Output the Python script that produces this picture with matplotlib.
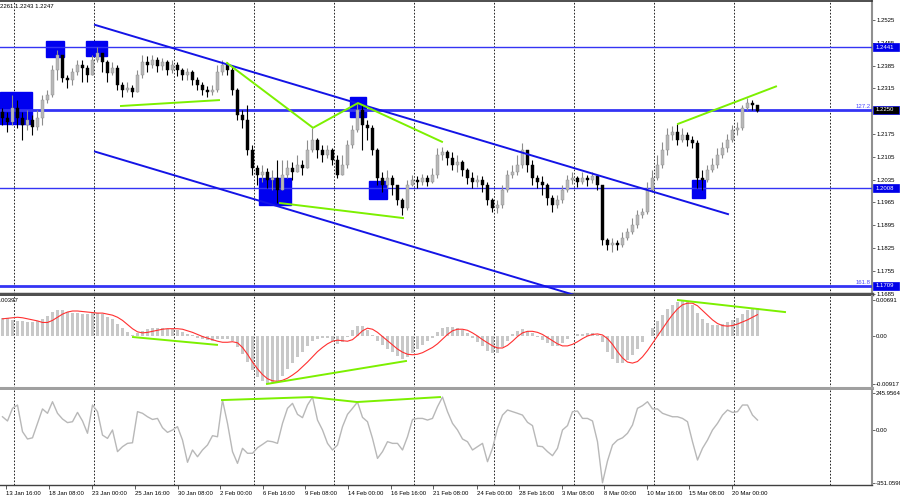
import matplotlib
matplotlib.use('Agg')
import matplotlib.pyplot as plt
import matplotlib.transforms as mtransforms
from matplotlib.patches import Rectangle
import numpy as np

plt.rcParams['font.family'] = ['Liberation Sans', 'DejaVu Sans']

# H4 candles (bar index 0..151)
first_open = 1.2243
closes = [1.2224, 1.2212, 1.2255, 1.2224, 1.2203, 1.2218, 1.2197, 1.2224, 1.2279, 1.2295,
          1.2372, 1.2418, 1.2347, 1.2341, 1.2365, 1.2387, 1.2378, 1.2356, 1.2402, 1.2424,
          1.2396, 1.2362, 1.2378, 1.2325, 1.2310, 1.2316, 1.2304, 1.2356, 1.2396, 1.2387,
          1.2402, 1.2384, 1.2396, 1.2372, 1.2387, 1.2372, 1.2356, 1.2365, 1.2341, 1.2325,
          1.2310, 1.2304, 1.2310, 1.2365, 1.2387, 1.2372, 1.2310, 1.2233, 1.2218, 1.2126,
          1.2071, 1.2049, 1.2058, 1.2034, 1.2040, 1.2003, 1.2049, 1.2071, 1.2058, 1.2080,
          1.2071, 1.2126, 1.2157, 1.2126, 1.2111, 1.2126, 1.2096, 1.2049, 1.2080, 1.2142,
          1.2187, 1.2249, 1.2203, 1.2194, 1.2126, 1.2040, 1.2019, 1.2040, 1.2019, 1.1973,
          1.1948, 1.2019, 1.2034, 1.2028, 1.2040, 1.2028, 1.2049, 1.2111, 1.2120, 1.2102,
          1.2080, 1.2089, 1.2065, 1.2040, 1.2028, 1.2034, 1.2019, 1.1973, 1.1948, 1.1957,
          1.2003, 1.2049, 1.2058, 1.2080, 1.2126, 1.2080, 1.2040, 1.2028, 1.2019, 1.1979,
          1.1957, 1.1973, 1.2003, 1.2034, 1.2040, 1.2028, 1.2040, 1.2034, 1.2046, 1.2019,
          1.1850, 1.1834, 1.1840, 1.1834, 1.1856, 1.1874, 1.1896, 1.1926, 1.1936, 1.2003,
          1.2040, 1.2080, 1.2126, 1.2172, 1.2181, 1.2157, 1.2172, 1.2157, 1.2148, 1.2040,
          1.2034, 1.2065, 1.2080, 1.2111, 1.2132, 1.2157, 1.2187, 1.2194, 1.2255, 1.2270,
          1.2264, 1.2247]
highs = [1.2255, 1.2243, 1.2295, 1.2279, 1.2243, 1.2249, 1.2233, 1.2249, 1.2295, 1.2310,
         1.2387, 1.2433, 1.2408, 1.2356, 1.2378, 1.2402, 1.2402, 1.2387, 1.2418, 1.2442,
         1.2418, 1.2402, 1.2396, 1.2387, 1.2335, 1.2335, 1.2325, 1.2372, 1.2418, 1.2415,
         1.2418, 1.2411, 1.2408, 1.2402, 1.2402, 1.2396, 1.2378, 1.2378, 1.2372, 1.2350,
         1.2335, 1.2322, 1.2325, 1.2387, 1.2402, 1.2396, 1.2387, 1.2316, 1.2249, 1.2264,
         1.2142, 1.2080, 1.2080, 1.2071, 1.2065, 1.2096, 1.2096, 1.2096, 1.2089, 1.2111,
         1.2096, 1.2157, 1.2194, 1.2163, 1.2142, 1.2142, 1.2132, 1.2111, 1.2111, 1.2157,
         1.2203, 1.2273, 1.2264, 1.2218, 1.2203, 1.2132, 1.2058, 1.2065, 1.2049, 1.2019,
         1.1979, 1.2034, 1.2049, 1.2046, 1.2052, 1.2049, 1.2071, 1.2132, 1.2135, 1.2126,
         1.2120, 1.2111, 1.2096, 1.2071, 1.2058, 1.2049, 1.2046, 1.2028, 1.1979, 1.1973,
         1.2019, 1.2065, 1.2080, 1.2111, 1.2148, 1.2120, 1.2096, 1.2049, 1.2046, 1.2025,
         1.1988, 1.1988, 1.2019, 1.2049, 1.2058, 1.2046, 1.2058, 1.2049, 1.2058, 1.2049,
         1.2019, 1.1856, 1.1856, 1.1850, 1.1874, 1.1886, 1.1917, 1.1942, 1.1948, 1.2028,
         1.2065, 1.2111, 1.2151, 1.2194, 1.2200, 1.2206, 1.2194, 1.2181, 1.2169, 1.2157,
         1.2065, 1.2080, 1.2102, 1.2132, 1.2151, 1.2175, 1.2203, 1.2212, 1.2264, 1.2286,
         1.2279, 1.2261]
lows = [1.2203, 1.2181, 1.2203, 1.2194, 1.2157, 1.2187, 1.2172, 1.2187, 1.2203, 1.2270,
        1.2289, 1.2341, 1.2335, 1.2316, 1.2325, 1.2356, 1.2335, 1.2335, 1.2356, 1.2396,
        1.2365, 1.2335, 1.2356, 1.2310, 1.2289, 1.2304, 1.2289, 1.2304, 1.2347, 1.2365,
        1.2378, 1.2365, 1.2372, 1.2356, 1.2362, 1.2353, 1.2341, 1.2341, 1.2325, 1.2310,
        1.2295, 1.2289, 1.2295, 1.2304, 1.2356, 1.2356, 1.2295, 1.2218, 1.2194, 1.2111,
        1.2049, 1.2019, 1.2028, 1.2009, 1.2003, 1.1963, 1.2009, 1.2040, 1.2034, 1.2058,
        1.2049, 1.2071, 1.2120, 1.2102, 1.2089, 1.2102, 1.2080, 1.2040, 1.2058, 1.2071,
        1.2132, 1.2181, 1.2126, 1.2157, 1.2111, 1.2019, 1.1997, 1.2009, 1.1988, 1.1957,
        1.1926, 1.1942, 1.2016, 1.2009, 1.2019, 1.2016, 1.2025, 1.2040, 1.2096, 1.2080,
        1.2065, 1.2058, 1.2046, 1.2022, 1.2009, 1.2013, 1.1997, 1.1957, 1.1936, 1.1933,
        1.1948, 1.1997, 1.2040, 1.2049, 1.2071, 1.2058, 1.2019, 1.2009, 1.1988, 1.1957,
        1.1936, 1.1948, 1.1963, 1.1997, 1.2022, 1.2013, 1.2022, 1.2016, 1.2025, 1.2003,
        1.1834, 1.1819, 1.1813, 1.1819, 1.1828, 1.1850, 1.1868, 1.1886, 1.1917, 1.1930,
        1.1997, 1.2034, 1.2071, 1.2111, 1.2157, 1.2142, 1.2151, 1.2138, 1.2132, 1.2009,
        1.2003, 1.2028, 1.2058, 1.2071, 1.2102, 1.2120, 1.2151, 1.2172, 1.2187, 1.2249,
        1.2249, 1.2243]

macd_hist = [0.0035, 0.0034, 0.0031, 0.0029, 0.0028, 0.0027, 0.0027, 0.0029, 0.0032, 0.0038,
             0.0046, 0.0050, 0.0050, 0.0047, 0.0045, 0.0044, 0.0043, 0.0042, 0.0044, 0.0045,
             0.0042, 0.0037, 0.0032, 0.0024, 0.0015, 0.0007, 0.0002, 0.0005, 0.0010, 0.0013,
             0.0015, 0.0016, 0.0015, 0.0014, 0.0013, 0.0011, 0.0007, 0.0003, 0.0001, -0.0003,
             -0.0006, -0.0008, -0.0009, -0.0006, -0.0005, -0.0006, -0.0010, -0.0022, -0.0035, -0.0050,
             -0.0066, -0.0078, -0.0086, -0.0092, -0.0090, -0.0086, -0.0076, -0.0064, -0.0052, -0.0040,
             -0.0030, -0.0020, -0.0010, -0.0005, -0.0003, -0.0004, -0.0010, -0.0015, -0.0012, -0.0002,
             0.0012, 0.0020, 0.0019, 0.0012, 0.0002, -0.0010, -0.0018, -0.0024, -0.0030, -0.0038,
             -0.0045, -0.0040, -0.0032, -0.0025, -0.0017, -0.0010, -0.0003, 0.0008, 0.0015, 0.0017,
             0.0017, 0.0016, 0.0012, 0.0005, -0.0004, -0.0012, -0.0020, -0.0028, -0.0033, -0.0032,
             -0.0022, -0.0010, 0.0003, 0.0010, 0.0013, 0.0010, 0.0005, -0.0002, -0.0008, -0.0014,
             -0.0020, -0.0020, -0.0014, -0.0006, 0.0000, 0.0003, 0.0004, 0.0005, 0.0005, 0.0002,
             -0.0012, -0.0030, -0.0045, -0.0052, -0.0052, -0.0046, -0.0036, -0.0024, -0.0012, 0.0000,
             0.0015, 0.0028, 0.0040, 0.0052, 0.0060, 0.0065, 0.0069, 0.0066, 0.0060, 0.0045,
             0.0032, 0.0025, 0.0022, 0.0022, 0.0024, 0.0027, 0.0031, 0.0035, 0.0042, 0.0049,
             0.0053, 0.0054]
macd_signal = [0.0033, 0.0034, 0.0035, 0.0036, 0.0035, 0.0033, 0.0031, 0.0029, 0.0026, 0.0026,
               0.0030, 0.0036, 0.0042, 0.0046, 0.0048, 0.0048, 0.0047, 0.0046, 0.0045, 0.0044,
               0.0044, 0.0042, 0.0040, 0.0036, 0.0030, 0.0022, 0.0014, 0.0008, 0.0006, 0.0007,
               0.0009, 0.0011, 0.0013, 0.0014, 0.0014, 0.0014, 0.0013, 0.0010, 0.0007, 0.0003,
               -0.0001, -0.0004, -0.0007, -0.0010, -0.0012, -0.0012, -0.0011, -0.0013, -0.0022, -0.0035,
               -0.0050, -0.0063, -0.0074, -0.0082, -0.0086, -0.0087, -0.0085, -0.0081, -0.0075, -0.0068,
               -0.0059, -0.0050, -0.0040, -0.0030, -0.0022, -0.0015, -0.0010, -0.0008, -0.0009, -0.0010,
               -0.0007, 0.0001, 0.0010, 0.0015, 0.0013, 0.0007, -0.0001, -0.0009, -0.0017, -0.0025,
               -0.0031, -0.0035, -0.0036, -0.0035, -0.0032, -0.0027, -0.0022, -0.0015, -0.0006, 0.0003,
               0.0010, 0.0013, 0.0013, 0.0011, 0.0006, 0.0000, -0.0007, -0.0013, -0.0019, -0.0023,
               -0.0023, -0.0018, -0.0010, -0.0001, 0.0006, 0.0009, 0.0009, 0.0007, 0.0003, -0.0003,
               -0.0009, -0.0015, -0.0019, -0.0019, -0.0016, -0.0011, -0.0005, 0.0000, 0.0003, 0.0004,
               0.0002, -0.0005, -0.0016, -0.0030, -0.0042, -0.0050, -0.0052, -0.0049, -0.0040, -0.0028,
               -0.0014, 0.0000, 0.0014, 0.0028, 0.0041, 0.0052, 0.0060, 0.0063, 0.0063, 0.0058,
               0.0049, 0.0040, 0.0031, 0.0024, 0.0020, 0.0019, 0.0020, 0.0023, 0.0027, 0.0031,
               0.0036, 0.0041]
cci = [88, 60, 144, 166, -11, -60, -52, 44, 140, 111,
       188, 111, 73, 49, 55, 117, 60, -22, 166, 122,
       -34, -56, 0, -144, -111, -89, -85, 122, 111, 88,
       70, 77, 15, -16, 0, 22, -67, -215, -133, -178,
       -133, -100, -38, -45, 199, 44, -144, -222, -122, -155,
       -155, -118, -96, -73, -78, -89, 44, 144, 177, 104,
       82, 166, 219, 66, 0, -89, -133, -100, 22, 104,
       144, 186, 84, 55, -56, -189, -144, -78, -89, -89,
       -133, -45, 70, 77, 77, 66, 77, 155, 219, 122,
       44, 0, -60, -78, -133, -111, -89, -211, -122, 11,
       99, 133, 122, 111, 99, 51, 29, -107, -111, -144,
       -171, -122, 0, 29, 122, 126, 77, 77, 60, -78,
       -351, -206, -100, -67, -52, -22, 33, 144, 162, 188,
       140, 140, 111, 99, 88, 88, 77, 55, -78, -200,
       -122, -67, 0, 44, 99, 133, 117, 122, 166, 166,
       99, 66]

# horizontal levels and annotations (bar index, price)
levels = [1.2441, 1.2250, 1.2008, 1.1709]
level_widths = [1.0, 2.0, 1.0, 2.0]
level_boxes = ['#0000e8', '#000000', '#0000e8', '#0000e8']
fib_text = {1.2250: '127.2', 1.1709: '161.8'}
channel_upper = [(18.5, 1.2510), (145.1, 1.1929)]
channel_lower = [(18.5, 1.2121), (120.0, 1.1655)]
green_price = [[(23.7, 1.2261), (43.3, 1.2279)],
               [(44.9, 1.2393), (62.1, 1.2194), (71.1, 1.2270), (87.9, 1.2151)],
               [(55.5, 1.1963), (80.1, 1.1917)],
               [(135.1, 1.2206), (154.7, 1.2321)]]
green_macd = [[(26.1, -0.0002), (42.9, -0.0017)],
              [(52.9, -0.0092), (80.7, -0.0048)],
              [(135.1, 0.0069), (156.5, 0.0046)]]
green_cci = [[(43.9, 199), (61.7, 219), (70.9, 186), (87.5, 219)]]
# (bar start, bar end, price low, price high)
squares = [(-0.5, 5.9, 1.2206, 1.2304), (8.7, 12.3, 1.2411, 1.2461),
           (16.7, 20.9, 1.2415, 1.2461), (51.3, 57.7, 1.1957, 1.2040),
           (69.5, 72.7, 1.2227, 1.2289), (73.3, 76.9, 1.1976, 1.2031),
           (137.9, 140.5, 1.1979, 1.2034)]

price_ticks = [1.2525, 1.2455, 1.2385, 1.2315, 1.2175, 1.2105, 1.2035,
               1.1965, 1.1895, 1.1825, 1.1755, 1.1685]
macd_ticks = [0.00691, 0.0, -0.00917]
macd_tick_labels = ['0.00691', '0.00', '-0.00917']
cci_ticks = [245.9564, 0.0, -351.0598]
cci_tick_labels = ['245.9564', '0.00', '-351.0598']
grid_pos = [2.4, 18.4, 34.4, 50.4, 66.4, 82.4, 98.4, 114.4, 130.4, 146.4, 165.5]
time_pos = [0.8, 9.3, 18.0, 26.5, 35.1, 43.6, 52.1, 60.5, 69.1, 77.7, 86.2, 94.9,
            103.3, 111.9, 120.4, 128.9, 137.4, 146.0]
time_labels = ['13 Jan 16:00', '18 Jan 08:00', '23 Jan 00:00', '25 Jan 16:00',
               '30 Jan 08:00', '2 Feb 00:00', '6 Feb 16:00', '9 Feb 08:00',
               '14 Feb 00:00', '16 Feb 16:00', '21 Feb 08:00', '24 Feb 00:00',
               '28 Feb 16:00', '3 Mar 08:00', '8 Mar 00:00', '10 Mar 16:00',
               '15 Mar 08:00', '20 Mar 00:00']

FS = 4.3
W, H = 900, 500
fig = plt.figure(figsize=(9, 5), dpi=100)
fig.patch.set_facecolor('white')
aw = 872 / W
ax1 = fig.add_axes([0, 1 - 294 / H, aw, 293 / H])
ax2 = fig.add_axes([0, 1 - 388 / H, aw, 92 / H])
ax3 = fig.add_axes([0, 1 - 485 / H, aw, 95 / H])

x = np.arange(len(closes))
c = np.array(closes)
o = np.array([first_open] + closes[:-1])
hi = np.maximum(np.array(highs), np.maximum(o, c))
lo = np.minimum(np.array(lows), np.minimum(o, c))
up = c >= o

for ax in (ax1, ax2, ax3):
    ax.set_xlim(-0.5, 173.9)
    for g in grid_pos:
        ax.axvline(g, color='black', lw=0.6, ls=(0, (2, 2)), zorder=1)
    ax.yaxis.tick_right()
    ax.tick_params(axis='y', labelsize=FS, length=2, pad=1, width=0.6,
                   colors='#505050', labelcolor='black')
    ax.spines['left'].set_visible(False)
    ax.spines['right'].set_color('#909090')
    ax.spines['right'].set_linewidth(1.5)

# main price panel
ax1.set_ylim(1.16838, 1.25833)
for (a, b, pl, ph) in squares:
    ax1.add_patch(Rectangle((a, pl), b - a, ph - pl, color='#0000f0', zorder=2))
for lev, lw in zip(levels, level_widths):
    ax1.axhline(lev, color='#3434f4', lw=lw, zorder=3)
ax1.vlines(x, lo, hi, colors=np.where(up, '#8c8c8c', '#000000'), lw=0.8, zorder=4)
body_lo = np.minimum(o, c)
body_h = np.maximum(np.abs(c - o), 0.00008)
ax1.bar(x, body_h, bottom=body_lo, width=0.6,
        color=np.where(up, '#b8b8b8', '#000000'),
        edgecolor=np.where(up, '#8c8c8c', '#000000'), lw=0.3, zorder=5)
for line in (channel_upper, channel_lower):
    ax1.plot([p[0] for p in line], [p[1] for p in line], color='#1414e6', lw=1.4, zorder=6)
for line in green_price:
    ax1.plot([p[0] for p in line], [p[1] for p in line], color='#7cf000', lw=1.4, zorder=7)
ax1.set_yticks(price_ticks)
ax1.set_yticklabels([f'{t:.4f}' for t in price_ticks])
ax1.set_xticks([])
ax1.spines['top'].set_color('#303030')
ax1.spines['top'].set_linewidth(1.2)
ax1.spines['bottom'].set_color('#505050')
ax1.spines['bottom'].set_linewidth(2.5)

trans = mtransforms.blended_transform_factory(ax1.transAxes, ax1.transData)
box_h = 8 * (1.25833 - 1.16838) / 293
for lev, bc in zip(levels, level_boxes):
    ax1.add_patch(Rectangle((1.0012, lev - box_h / 2), 0.0300, box_h, transform=trans,
                            facecolor=bc, edgecolor='#0000e8', lw=0.5,
                            clip_on=False, zorder=10))
    ax1.text(1.0045, lev, f'{lev:.4f}', transform=trans, ha='left', va='center',
             fontsize=FS, color='white', zorder=11, clip_on=False)
for lev, t in fib_text.items():
    ax1.text(0.998, lev + 0.0003, t, transform=trans, ha='right', va='bottom',
             fontsize=FS, color='#4848ff', zorder=8)

# MACD panel
ax2.set_ylim(-0.00998, 0.00768)
ax2.bar(x, macd_hist, width=0.5, color='#c8c8c8', zorder=2)
ax2.plot(x, macd_signal, color='#ff3030', lw=0.8, zorder=3)
for line in green_macd:
    ax2.plot([p[0] for p in line], [p[1] for p in line], color='#7cf000', lw=1.4, zorder=4)
ax2.set_yticks(macd_ticks)
ax2.set_yticklabels(macd_tick_labels)
ax2.set_xticks([])
ax2.spines['top'].set_visible(False)
ax2.spines['bottom'].set_color('#a0a0a0')
ax2.spines['bottom'].set_linewidth(2.2)

# CCI panel
ax3.set_ylim(-366, 266)
ax3.plot(x, cci, color='#b8b8b8', lw=1.0, zorder=2)
for line in green_cci:
    ax3.plot([p[0] for p in line], [p[1] for p in line], color='#7cf000', lw=1.4, zorder=3)
ax3.set_yticks(cci_ticks)
ax3.set_yticklabels(cci_tick_labels)
ax3.set_xticks(time_pos)
ax3.set_xticklabels(time_labels, ha='left')
ax3.tick_params(axis='x', labelsize=FS, length=3, pad=1.5, width=0.6, colors='#404040',
                labelcolor='black')
ax3.spines['top'].set_visible(False)
ax3.spines['bottom'].set_color('#404040')
ax3.spines['bottom'].set_linewidth(1.0)

# header texts (partly cut at the left edge)
fig.text(-5 / W, 1 - 6 / H, '1.2261 1.2243 1.2247', ha='left', va='center', fontsize=FS)
fig.text(-3.5 / W, 1 - 301 / H, '0.00397', ha='left', va='center', fontsize=FS)

fig.savefig('out.png', dpi=100, facecolor='white')
